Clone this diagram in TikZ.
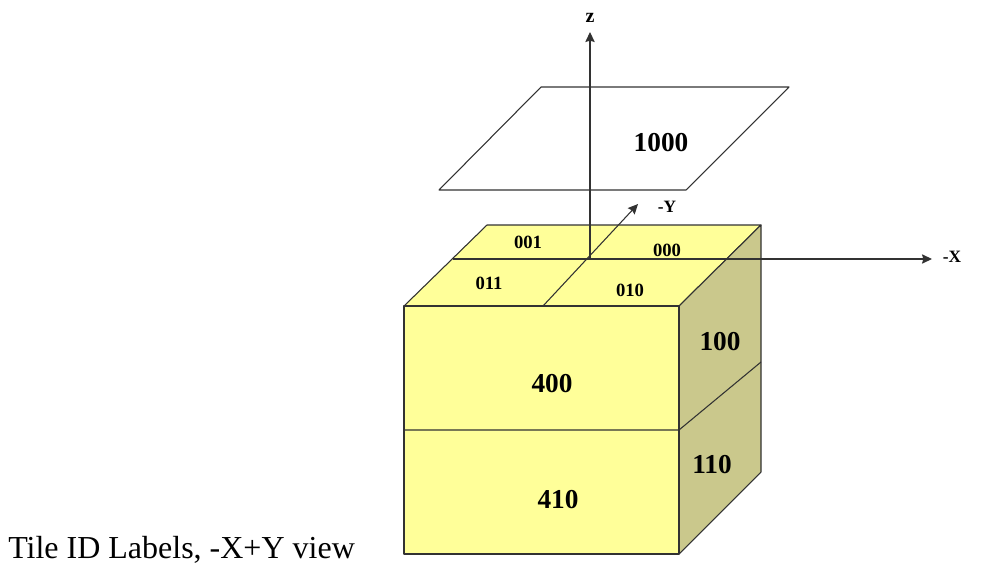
\documentclass[tikz,border=0pt]{standalone}
\usepackage{fontspec}
\setmainfont{Liberation Serif}
\usepackage{xcolor}
\usetikzlibrary{arrows.meta}
\definecolor{facefill}{RGB}{255,255,153}
\definecolor{sidefill}{RGB}{202,200,140}
\definecolor{edgegray}{RGB}{50,50,50}
\tikzset{
  face/.style={draw=edgegray,line width=0.8pt,line join=round},
  axis/.style={draw=edgegray,line width=0.8pt,-{Stealth[length=7.5pt,width=7pt,inset=1pt]}},
  tilelabel/.style={font=\bfseries\fontsize{14}{16}\selectfont,inner sep=0pt},
  biglabel/.style={font=\bfseries\fontsize{20.5}{23}\selectfont,inner sep=0pt},
  axislabel/.style={font=\bfseries\fontsize{13}{15}\selectfont,inner sep=0pt}
}
\begin{document}
\begin{tikzpicture}[x=0.75pt,y=-0.75pt]
  \useasboundingbox (0,0) rectangle (1002,563);

  % --- Corners of the block ---
  \coordinate (FTL) at (404,306);
  \coordinate (FTR) at (679,306);
  \coordinate (FML) at (404,430);
  \coordinate (FMR) at (679,430);
  \coordinate (FBL) at (404,554);
  \coordinate (FBR) at (679,554);
  \coordinate (BTL) at (487,225);
  \coordinate (BTR) at (761,225);
  \coordinate (BMR) at (761,362);
  \coordinate (BBR) at (761,472);

  % --- Corners of the plate ---
  \coordinate (P1) at (541,87);
  \coordinate (P2) at (789,87);
  \coordinate (P3) at (686,190);
  \coordinate (P4) at (439,190);

  % --- Axis and seam points ---
  \coordinate (O)  at (590,259);
  \coordinate (ZE) at (590,32);
  \coordinate (XE) at (932,259);
  \coordinate (YE) at (638,204);
  \coordinate (YS) at (543,306);
  \coordinate (ML) at (453,259);

  % --- Faces ---
  \draw[face,fill=facefill] (FTL) -- (BTL) -- (BTR) -- (FTR) -- cycle;
  \draw[face,fill=sidefill] (FTR) -- (BTR) -- (BBR) -- (FBR) -- cycle;
  \draw[face,fill=facefill] (FTL) rectangle (FBR);
  \draw[face] (FML) -- (FMR) -- (BMR);
  \draw[face] (P1) -- (P2) -- (P3) -- (P4) -- cycle;

  % --- Axes ---
  \draw[face] (ML) -- (O);
  \draw[axis] (O) -- (XE);
  \draw[axis] (O) -- (ZE);
  \draw[axis] (YS) -- (YE);

  % --- Labels ---
  \node[axislabel,font=\bfseries\fontsize{15}{17}\selectfont] (LZ) at (590,18) {z};
  \node[axislabel] (LY) at (667,207) {-Y};
  \node[axislabel] (LX) at (952,257) {-X};
  \node[tilelabel] (L001) at (528,242) {001};
  \node[tilelabel] (L000) at (667,250) {000};
  \node[tilelabel] (L011) at (489,283) {011};
  \node[tilelabel] (L010) at (630,290) {010};
  \node[biglabel] (L1000) at (661,143) {1000};
  \node[biglabel] (L400) at (552,384) {400};
  \node[biglabel] (L410) at (558,500) {410};
  \node[biglabel] (L100) at (720,342) {100};
  \node[biglabel] (L110) at (712,465) {110};
  \node[font=\fontsize{24}{26}\selectfont,inner sep=0pt,anchor=base west] (CAP) at (8,558) {Tile ID Labels, -X+Y view};
\end{tikzpicture}
\end{document}
